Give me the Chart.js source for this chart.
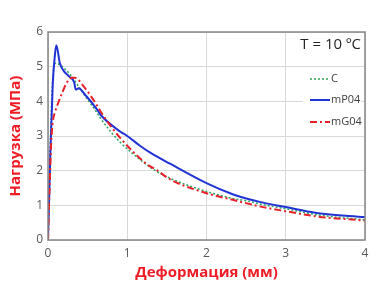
<!DOCTYPE html>
<html>
<head>
<meta charset="utf-8">
<script src="https://cdn.jsdelivr.net/npm/chart.js@4"></script>
<style>
  html, body { margin: 0; padding: 0; background: #fff; }
  #wrap { width: 385px; height: 292px; position: relative; }
</style>
</head>
<body>
<div id="wrap"><canvas id="myChart" width="385" height="292"></canvas></div>
<script>
// series: [deformation mm, load MPa]
const seriesNames = ['C', 'mP04', 'mG04'];

const cData = [
    [0, 0], [0.02, 2.0], [0.05, 4.2], [0.08, 5.05], [0.1, 5.1], [0.2, 4.96],
    [0.3, 4.72], [0.4, 4.38], [0.5, 4.05], [0.58, 3.8], [0.66, 3.52], [0.8, 3.1],
    [0.91, 2.82], [1.16, 2.32], [1.32, 2.05], [1.54, 1.78], [2.0, 1.4], [2.33, 1.2],
    [2.55, 1.11], [2.67, 1.04], [3.0, 0.9], [3.39, 0.73], [4.0, 0.58]
];
const mP04Data = [
    [0, 0], [0.03, 2.5], [0.06, 4.5], [0.09, 5.4], [0.105, 5.62], [0.15, 5.1],
    [0.2, 4.87], [0.265, 4.72], [0.33, 4.55], [0.35, 4.34], [0.39, 4.38], [0.45, 4.24],
    [0.62, 3.76], [0.66, 3.62], [0.91, 3.13], [1.0, 3.0], [1.16, 2.72], [1.29, 2.52],
    [1.54, 2.2], [2.0, 1.64], [2.33, 1.32], [2.55, 1.17], [2.67, 1.1], [3.0, 0.95],
    [3.39, 0.78], [4.0, 0.66]
];
const mG04Data = [
    [0, 0], [0.02, 1.5], [0.04, 2.8], [0.06, 3.4], [0.09, 3.7], [0.12, 3.9],
    [0.18, 4.25], [0.24, 4.55], [0.3, 4.68], [0.34, 4.68], [0.45, 4.43], [0.6, 3.95],
    [0.66, 3.72], [0.82, 3.2], [1.0, 2.72], [1.24, 2.2], [1.37, 2.02], [1.54, 1.75],
    [2.0, 1.35], [2.33, 1.16], [2.67, 0.97], [3.0, 0.83], [3.39, 0.68], [4.0, 0.56]
];

const xTicks = [0, 1, 2, 3, 4];
const yTicks = [0, 1, 2, 3, 4, 5, 6];
const tempLabel = 'T = 10 ºC';
const xTitle = 'Деформация (мм)';
const yTitle = 'Нагрузка (МПа)';

const toPoints = (arr) => arr.map(p => ({ x: p[0], y: p[1] }));

// frame around plot area + in-plot legend and temperature label
const framePlugin = {
    id: 'frame',
    beforeDatasetsDraw(chart) {
        const ctx = chart.ctx;
        ctx.save();
        // white backing for the legend
        ctx.fillStyle = '#ffffff';
        ctx.fillRect(303, 68, 58, 66);
        ctx.restore();
    },
    afterDatasetsDraw(chart) {
        const a = chart.chartArea;
        const ctx = chart.ctx;
        ctx.save();
        ctx.strokeStyle = '#858585';
        ctx.lineWidth = 1.5;
        ctx.strokeRect(a.left, a.top, a.right - a.left, a.bottom - a.top);

        ctx.fillStyle = '#262626';
        ctx.font = '15px "Open Sans"';
        ctx.textAlign = 'right';
        ctx.textBaseline = 'middle';
        ctx.fillText(tempLabel, a.right - 4, 45);

        const rows = [79, 100, 122];
        ctx.font = '11px "Open Sans"';
        ctx.textAlign = 'left';
        chart.data.datasets.forEach((ds, i) => {
            const y = rows[i];
            ctx.beginPath();
            ctx.strokeStyle = ds.borderColor;
            ctx.lineWidth = ds.borderWidth;
            ctx.setLineDash(ds.borderDash || []);
            ctx.moveTo(310, y);
            ctx.lineTo(330, y);
            ctx.stroke();
            ctx.setLineDash([]);
            ctx.fillStyle = '#404040';
            ctx.fillText(ds.label, 331, y);
        });
        ctx.restore();
    }
};

document.addEventListener("DOMContentLoaded", () => {
    const ctx = document.getElementById('myChart').getContext('2d');
    new Chart(ctx, {
        type: 'scatter',
        data: {
            datasets: [
                {
                    label: seriesNames[0],
                    data: toPoints(cData),
                    borderColor: '#2ca85a',
                    borderWidth: 1.5,
                    borderDash: [2, 2],
                    order: 3
                },
                {
                    label: seriesNames[1],
                    data: toPoints(mP04Data),
                    borderColor: '#2233d6',
                    borderWidth: 2,
                    order: 2
                },
                {
                    label: seriesNames[2],
                    data: toPoints(mG04Data),
                    borderColor: '#e8202a',
                    borderWidth: 2,
                    borderDash: [7, 3, 2, 3],
                    order: 1
                }
            ].map(ds => Object.assign(ds, {
                showLine: true,
                pointRadius: 0,
                cubicInterpolationMode: 'monotone',
                fill: false
            }))
        },
        options: {
            responsive: false,
            animation: false,
            layout: { padding: { top: 32, right: 20, left: 7, bottom: 10 } },
            plugins: {
                legend: { display: false },
                tooltip: { enabled: false }
            },
            scales: {
                x: {
                    type: 'linear',
                    min: 0,
                    max: 4,
                    afterFit: (scale) => { scale.height = 42; },
                    afterBuildTicks: (scale) => { scale.ticks = xTicks.map(v => ({ value: v })); },
                    grid: { color: '#d9d9d9', drawTicks: false },
                    border: { display: false },
                    ticks: {
                        color: '#595959',
                        font: { family: 'Open Sans', size: 12 },
                        padding: 6
                    },
                    title: {
                        display: true,
                        text: xTitle,
                        color: '#ee1c25',
                        font: { family: 'Open Sans', size: 15, weight: 'bold' },
                        padding: { top: 2, bottom: 0 }
                    }
                },
                y: {
                    type: 'linear',
                    min: 0,
                    max: 6,
                    afterFit: (scale) => { scale.width = 41; },
                    afterBuildTicks: (scale) => { scale.ticks = yTicks.map(v => ({ value: v })); },
                    grid: { color: '#d9d9d9', drawTicks: false },
                    border: { display: false },
                    ticks: {
                        color: '#595959',
                        font: { family: 'Open Sans', size: 12 },
                        padding: 5
                    },
                    title: {
                        display: true,
                        text: yTitle,
                        color: '#ee1c25',
                        font: { family: 'Open Sans', size: 15, weight: 'bold' },
                        padding: { top: 0, bottom: 0 }
                    }
                }
            }
        },
        plugins: [framePlugin]
    });
});
</script>
</body>
</html>
